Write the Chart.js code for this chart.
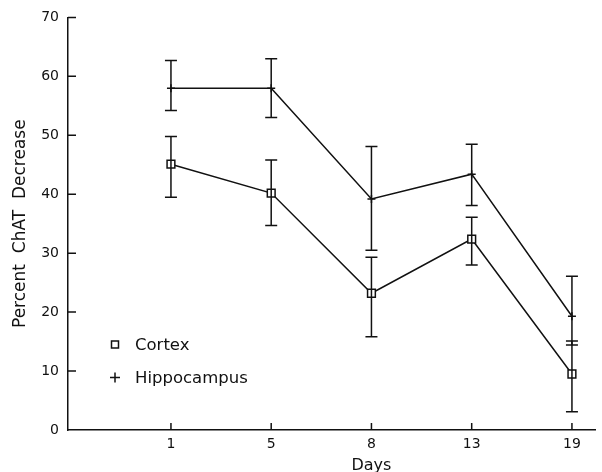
<!DOCTYPE html>
<html>
<head>
<meta charset="utf-8">
<script src="https://cdn.jsdelivr.net/npm/chart.js@4/dist/chart.umd.min.js"></script>
<style>
  html, body { margin: 0; padding: 0; background: #fff; }
  #wrap { width: 602px; height: 472px; }
</style>
</head>
<body>
<div id="wrap"><canvas id="myChart"></canvas></div>
<script>
// data
const days = ["1", "5", "8", "13", "19"];
const cortex = [45.1, 40.2, 23.2, 32.4, 9.5];
const cortexHi = [49.8, 45.8, 29.3, 36.1, 15.1];
const cortexLo = [39.5, 34.7, 15.8, 28.0, 3.1];
const hippo = [58.0, 58.0, 39.2, 43.4, 19.3];
const hippoHi = [62.7, 63.0, 48.1, 48.5, 26.1];
const hippoLo = [54.2, 53.0, 30.5, 38.1, 14.4];
const yTicks = [0, 10, 20, 30, 40, 50, 60, 70];

const FONT = "'DejaVu Sans', sans-serif";
const INK = "#111";

function toXY(values) {
  return values.map((v, i) => ({ x: i + 1, y: v }));
}

// error bars, inward ticks, legend and x title
const extras = {
  id: "extras",
  afterDatasetsDraw(chart) {
    const ctx = chart.ctx;
    const xs = chart.scales.x;
    const ys = chart.scales.y;
    const area = chart.chartArea;
    ctx.save();
    ctx.strokeStyle = INK;
    ctx.lineWidth = 1.5;

    // error bars
    [[cortexHi, cortexLo], [hippoHi, hippoLo]].forEach(pair => {
      days.forEach((d, i) => {
        const px = xs.getPixelForValue(i + 1);
        const top = ys.getPixelForValue(pair[0][i]);
        const bot = ys.getPixelForValue(pair[1][i]);
        ctx.beginPath();
        ctx.moveTo(px, top);
        ctx.lineTo(px, bot);
        ctx.moveTo(px - 6, top);
        ctx.lineTo(px + 6, top);
        ctx.moveTo(px - 6, bot);
        ctx.lineTo(px + 6, bot);
        ctx.stroke();
      });
    });

    // inward tick marks
    ctx.beginPath();
    yTicks.forEach(v => {
      if (v === 0) return;
      const py = ys.getPixelForValue(v);
      ctx.moveTo(area.left, py);
      ctx.lineTo(area.left + 8, py);
    });
    days.forEach((d, i) => {
      const px = xs.getPixelForValue(i + 1);
      ctx.moveTo(px, area.bottom);
      ctx.lineTo(px, area.bottom - 7);
    });
    ctx.stroke();

    // legend inside the plot
    const lx = area.left + 47;
    const rows = [area.top + 327, area.top + 360];
    ctx.fillStyle = INK;
    ctx.font = "16.5px " + FONT;
    ctx.textBaseline = "middle";
    ctx.textAlign = "left";
    chart.data.datasets.forEach((ds, k) => {
      const y = rows[k];
      ctx.beginPath();
      if (ds.pointStyle === "rect") {
        ctx.rect(lx - 3.5, y - 3.5, 7, 7);
      } else {
        ctx.moveTo(lx - 5, y);
        ctx.lineTo(lx + 5, y);
        ctx.moveTo(lx, y - 5);
        ctx.lineTo(lx, y + 5);
      }
      ctx.stroke();
      ctx.fillText(ds.label, lx + 20, y + 1);
    });

    // x axis title under the middle category
    ctx.textAlign = "center";
    ctx.font = "16px " + FONT;
    ctx.fillText("Days", xs.getPixelForValue(3), area.bottom + 36);
    ctx.restore();
  }
};

const ctx = document.getElementById("myChart").getContext("2d");
const chart = new Chart(ctx, {
  type: "line",
  data: {
    datasets: [
      {
        label: "Cortex",
        data: toXY(cortex),
        borderColor: INK,
        borderWidth: 1.5,
        pointStyle: "rect",
        pointRadius: 5.5,
        pointBackgroundColor: "#fff",
        pointBorderColor: INK,
        pointBorderWidth: 1.5,
        fill: false
      },
      {
        label: "Hippocampus",
        data: toXY(hippo),
        borderColor: INK,
        borderWidth: 1.5,
        pointStyle: "cross",
        pointRadius: 4,
        pointBorderColor: INK,
        pointBorderWidth: 1.5,
        fill: false
      }
    ]
  },
  options: {
    responsive: true,
    maintainAspectRatio: false,
    animation: false,
    layout: { padding: { top: 17, right: 0, left: 0, bottom: 0 } },
    plugins: {
      legend: { display: false },
      tooltip: { enabled: false }
    },
    scales: {
      x: {
        type: "linear",
        min: -0.027,
        max: 5.23,
        grid: { display: false, drawTicks: false },
        border: { display: true, color: INK, width: 1.5 },
        afterBuildTicks: s => { s.ticks = days.map((d, i) => ({ value: i + 1 })); },
        afterFit: s => { s.height = 42; },
        ticks: {
          padding: 6,
          color: INK,
          font: { family: FONT, size: 14 },
          autoSkip: false,
          maxRotation: 0,
          callback: v => days[v - 1]
        }
      },
      y: {
        min: 0,
        max: 70,
        grid: { display: false, drawTicks: false },
        border: { display: true, color: INK, width: 1.5 },
        afterBuildTicks: s => { s.ticks = yTicks.map(v => ({ value: v })); },
        afterFit: s => { s.width = 68; },
        ticks: {
          padding: 9,
          color: INK,
          font: { family: FONT, size: 14 }
        },
        title: {
          display: true,
          text: "Percent  ChAT  Decrease",
          color: INK,
          font: { family: FONT, size: 17 },
          padding: { top: 10, bottom: 0 }
        }
      }
    }
  },
  plugins: [extras]
});
</script>
</body>
</html>
